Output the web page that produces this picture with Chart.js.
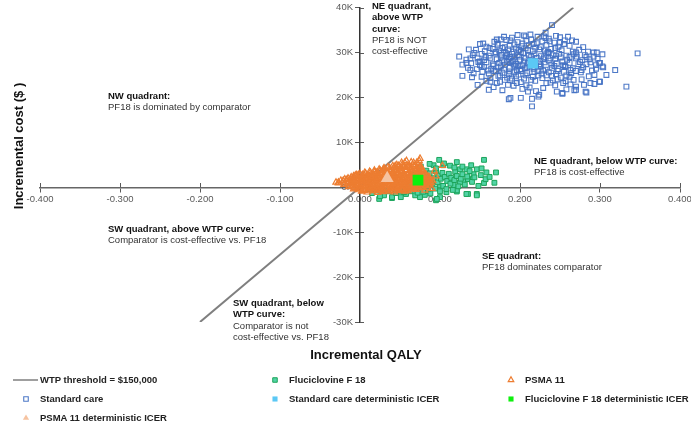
<!DOCTYPE html>
<html><head><meta charset="utf-8">
<script src="https://cdn.jsdelivr.net/npm/chart.js@4.4.1/dist/chart.umd.min.js"></script>
<style>
html,body{margin:0;padding:0;background:#fff;}
#wrap{position:relative;width:691px;height:426px;font-family:"Liberation Sans",Arial,sans-serif;overflow:hidden;}
#c{position:absolute;left:0;top:0;}
.note{position:absolute;font-size:9.5px;line-height:11.3px;color:#333;white-space:nowrap;}
.note b{font-weight:bold;color:#111;}
.atitle{position:absolute;font-size:13px;font-weight:bold;color:#111;white-space:nowrap;}
.leg{position:absolute;font-size:9.5px;font-weight:bold;color:#222;white-space:nowrap;line-height:12px;}
.mk{position:absolute;}
</style></head>
<body><div id="wrap">
<canvas id="c" width="691" height="426"></canvas>
<div class="note" style="left:108px;top:90px"><b>NW quadrant:</b><br>PF18 is dominated by comparator</div>
<div class="note" style="left:372px;top:0px"><b>NE quadrant,<br>above WTP<br>curve:</b><br>PF18 is NOT<br>cost-effective</div>
<div class="note" style="left:534px;top:155px"><b>NE quadrant, below WTP curve:</b><br>PF18 is cost-effective</div>
<div class="note" style="left:108px;top:223px"><b>SW quadrant, above WTP curve:</b><br>Comparator is cost-effective vs. PF18</div>
<div class="note" style="left:233px;top:297px"><b>SW quadrant, below<br>WTP curve:</b><br>Comparator is not<br>cost-effective vs. PF18</div>
<div class="note" style="left:482px;top:250px"><b>SE quadrant:</b><br>PF18 dominates comparator</div>
<div class="atitle" id="xt" style="left:0;width:732px;text-align:center;top:347px">Incremental QALY</div>
<div class="atitle" id="yt" style="left:18px;top:146px;transform:translate(-50%,-50%) rotate(-90deg)">Incremental cost ($ )</div>
<div id="legend"></div>
</div>
<script>
// ---------- DATA ----------
const xTickLabels = ["-0.400","-0.300","-0.200","-0.100","0.000","0.100","0.200","0.300","0.400"];
const yTickLabels = ["-30K","-20K","-10K","0K","10K","20K","30K","40K"];
// Incremental QALY, incremental cost in $ thousands
const wtpLine = [[-0.2,-30],[0.26667,40]];
const stdCareDet = [[0.216,27.6]];
const fluDet = [[0.0725,1.6]];
const psmaDet = [[0.034,2.0]];

const stdCare = [
[0.124,29.1],[0.128,24.8],[0.136,30.7],[0.140,24.5],[0.147,22.8],[0.161,21.7],[0.150,31.9],[0.171,32.9],[0.176,32.9],[0.186,19.6],
[0.201,19.9],[0.207,33.6],[0.215,18.0],[0.223,20.2],[0.232,34.4],[0.240,36.1],[0.232,33.2],[0.250,33.4],[0.260,33.5],[0.265,32.7],
[0.246,21.3],[0.253,21.0],[0.268,21.6],[0.282,21.3],[0.288,23.2],[0.293,23.0],[0.299,23.5],[0.308,25.0],[0.319,26.1],[0.333,22.4],
[0.347,29.8],[0.303,26.9],[0.296,30.0],[0.285,30.2],[0.283,27.4],[0.300,27.7],[0.277,26.1],[0.271,29.1],[0.188,19.9],[0.215,19.7],
[0.224,20.6],[0.210,21.3],[0.163,23.5],[0.175,23.5],[0.185,22.8],[0.196,23.2],[0.208,22.7],[0.233,23.2],[0.254,23.2],[0.267,23.9],
[0.138,26.1],[0.138,28.7],[0.133,27.7],[0.150,28.0],[0.154,32.0],[0.172,32.0],[0.188,32.7],[0.303,29.6],[0.292,30.0],[0.304,26.7],
[0.299,27.7],[0.295,27.2],[0.287,28.5],[0.300,23.5],[0.293,25.0],[0.283,21.1],[0.270,21.7],[0.277,24.0],[0.253,20.8],
[0.190,33.3],[0.205,33.8],[0.222,33.5],[0.236,33.1],[0.245,33.7],
[0.168,32.4],[0.183,32.8],[0.197,32.3],[0.214,32.9],[0.228,32.5],[0.243,32.2],[0.256,32.7],[0.270,32.4],
[0.158,31.3],[0.172,31.7],[0.181,31.2],[0.193,31.8],[0.202,31.4],[0.211,31.6],[0.219,31.1],[0.233,31.7],[0.248,31.3],[0.262,31.5],[0.279,31.2],
[0.145,30.6],[0.156,30.3],[0.166,30.8],[0.174,30.4],[0.185,30.7],[0.192,30.2],[0.199,30.6],[0.207,30.9],[0.216,30.3],[0.224,30.7],[0.231,30.4],[0.239,30.8],[0.252,30.5],[0.266,30.2],[0.274,30.6],
[0.141,29.4],[0.152,29.7],[0.161,29.3],[0.169,29.8],[0.177,29.5],[0.183,29.2],[0.190,29.7],[0.197,29.4],[0.204,29.9],[0.211,29.3],[0.218,29.6],[0.226,29.2],[0.233,29.8],[0.241,29.4],[0.249,29.7],[0.258,29.3],[0.267,29.6],[0.281,29.4],[0.292,29.1],
[0.133,28.4],[0.147,28.7],[0.155,28.3],[0.163,28.8],[0.171,28.5],[0.178,28.2],[0.186,28.6],[0.193,28.9],[0.200,28.4],[0.207,28.7],[0.213,28.3],[0.221,28.8],[0.229,28.5],[0.236,28.2],[0.244,28.6],[0.251,28.9],[0.259,28.4],[0.270,28.7],[0.278,28.3],[0.297,28.6],
[0.128,27.3],[0.139,27.6],[0.150,27.2],[0.158,27.8],[0.166,27.4],[0.174,27.7],[0.181,27.3],[0.188,27.9],[0.195,27.5],[0.203,27.2],[0.210,27.7],[0.224,27.4],[0.231,27.8],[0.239,27.3],[0.246,27.6],[0.254,27.2],[0.262,27.7],[0.273,27.4],[0.288,27.8],
[0.135,26.6],[0.146,26.3],[0.155,26.8],[0.164,26.4],[0.172,26.7],[0.180,26.2],[0.187,26.6],[0.194,26.9],[0.202,26.3],[0.209,26.7],[0.217,26.4],[0.225,26.8],[0.232,26.2],[0.240,26.6],[0.248,26.3],[0.257,26.8],[0.266,26.5],[0.279,26.7],[0.295,26.4],
[0.142,25.4],[0.153,25.7],[0.161,25.3],[0.170,25.8],[0.178,25.5],[0.186,25.2],[0.193,25.6],[0.201,25.9],[0.209,25.4],[0.218,25.7],[0.227,25.3],[0.236,25.6],[0.245,25.2],[0.255,25.7],[0.264,25.4],[0.276,25.6],
[0.152,24.6],[0.163,24.3],[0.173,24.8],[0.184,24.4],[0.195,24.7],[0.205,24.2],[0.216,24.6],[0.228,24.3],[0.240,24.8],[0.251,24.4],[0.262,24.6],
[0.158,23.7],[0.171,23.2],[0.188,23.8],[0.201,23.4],[0.219,23.7],[0.238,23.3],[0.257,23.6],
[0.167,22.3],[0.192,22.6],[0.212,22.2],[0.244,22.7],[0.270,22.4],
[0.178,21.6],[0.220,21.4],[0.258,21.8],
[0.184,27.9],[0.191,28.1],[0.198,27.0],[0.205,28.0],[0.212,26.9],[0.219,28.1],[0.226,27.1],[0.188,29.0],[0.196,26.1],[0.214,29.1],
[0.229,26.0],[0.176,26.9],[0.182,29.9],[0.236,29.9],[0.243,27.0],[0.201,30.1],[0.167,27.1],[0.253,28.0],[0.160,26.0],[0.247,25.9],
[0.170,30.1],[0.178,31.0],[0.187,31.5],[0.195,30.9],[0.203,32.0],[0.210,30.5],[0.217,31.9],[0.226,31.2],[0.235,30.1],[0.244,31.0],
[0.255,31.9],[0.262,29.0],[0.270,30.0],[0.176,28.9],[0.184,29.5],[0.192,27.3],[0.199,29.1],[0.206,26.5],[0.215,27.3],[0.222,25.9],
[0.230,28.9],[0.238,28.7],[0.245,29.3],[0.256,27.0],[0.263,26.1],[0.275,27.9],[0.283,29.0],[0.290,26.0],[0.168,25.9],[0.175,24.9],
[0.181,23.9],[0.190,24.2],[0.198,25.1],[0.207,24.9],[0.214,23.9],[0.223,24.9],[0.233,24.9],[0.247,24.0],[0.258,24.9],[0.270,25.9],
[0.148,27.9],[0.157,29.0],[0.162,31.0],[0.152,26.9],[0.143,29.9],[0.208,32.6],[0.221,32.1],[0.237,32.5],[0.250,32.2],[0.230,33.6],
[0.213,34.0],[0.197,33.9],[0.180,33.5],[0.286,24.7],[0.280,22.8],[0.229,22.1],[0.203,21.9],[0.263,22.9],[0.187,25.8],[0.241,23.8]
];

const fluciclovine = [
[0.099,6.1],[0.155,6.1],[0.170,3.3],[0.168,1.0],[0.155,0.95],[0.146,-1.5],[0.135,-1.5],[0.121,-0.95],[0.015,-1.3],[0.024,-2.6],
[0.030,-1.8],[0.040,-2.4],[0.051,-2.2],[0.0575,-1.5],[0.069,-1.8],[0.081,-1.7],[0.095,-2.9],[0.100,-2.2],[0.146,4.0],[0.152,4.2],
[0.133,4.0],[0.125,4.0],[0.1125,4.8],[0.104,4.9],[0.092,4.9],[0.083,3.7],[0.142,2.9],[0.1375,1.8],[0.129,1.3],[0.117,0.5],
[0.025,-2.0],[0.040,-2.2],[0.055,-1.1],[0.075,-2.2],[0.096,-2.6],[0.108,-1.1],[0.121,-0.7],[0.133,-1.5],[0.146,-1.8],[0.157,1.8],
[0.100,0.4],[0.1125,1.5],[0.125,1.1],[0.135,1.8],
[0.060,0.5],[0.065,2.8],[0.070,-0.5],[0.074,3.9],[0.078,1.2],[0.080,0.2],[0.083,2.4],[0.085,-0.8],[0.087,3.1],[0.089,1.5],
[0.090,0.6],[0.092,2.0],[0.094,-0.3],[0.095,3.5],[0.097,1.1],[0.098,2.6],[0.100,-0.9],[0.101,1.9],[0.103,3.2],[0.104,0.3],
[0.106,2.3],[0.108,-0.4],[0.109,1.4],[0.111,3.0],[0.113,0.8],[0.114,2.1],[0.116,-0.6],[0.118,1.6],[0.119,3.4],[0.121,2.5],
[0.123,0.2],[0.126,1.9],[0.128,2.9],[0.131,0.6],[0.134,2.4],[0.137,3.6],[0.140,1.2],[0.143,2.2],[0.148,0.3],[0.151,2.7],
[0.158,3.3],[0.162,2.3],[0.076,4.6],[0.087,5.2],[0.095,4.2],[0.069,0.9],[0.072,-1.2],[0.079,-1.0],[0.088,-1.4],[0.063,-0.9],
[0.056,-0.3],[0.050,-0.8],[0.045,-1.3],[0.035,-0.9],[0.028,-0.6],[0.020,-0.7],[0.012,-0.4],[0.105,5.3],[0.118,4.4],[0.128,4.6],
[0.139,4.9],[0.121,5.6]
];

const psma11 = [
[0.002,-0.9],[0.009,-1.1],[0.016,-0.8],[0.022,-1.2],[0.029,-1.0],[0.036,-0.9],[0.043,-1.1],[0.049,-0.8],[0.056,-0.9],
[-0.008,-0.4],[-0.002,-0.6],[0.004,-0.5],[0.011,-0.3],[0.017,-0.6],[0.024,-0.4],[0.030,-0.5],[0.037,-0.7],[0.043,-0.3],[0.050,-0.5],[0.057,-0.6],[0.063,-0.4],[0.070,-0.5],
[-0.014,0.1],[-0.007,-0.1],[-0.001,0.0],[0.006,0.2],[0.012,-0.1],[0.019,0.1],[0.026,0.0],[0.032,-0.2],[0.039,0.1],[0.045,0.0],[0.052,0.2],[0.058,-0.1],[0.065,0.0],[0.071,0.1],[0.078,-0.1],[0.084,0.0],
[-0.020,0.6],[-0.013,0.4],[-0.006,0.5],[0.001,0.7],[0.008,0.4],[0.014,0.5],[0.021,0.6],[0.027,0.3],[0.034,0.5],[0.041,0.6],[0.047,0.4],[0.054,0.5],[0.060,0.7],[0.067,0.4],[0.074,0.6],[0.080,0.5],[0.087,0.4],
[-0.027,1.1],[-0.019,0.9],[-0.012,1.0],[-0.005,1.2],[0.002,0.9],[0.009,1.0],[0.015,1.1],[0.022,0.8],[0.029,1.0],[0.036,1.2],[0.042,0.9],[0.049,1.0],[0.055,1.1],[0.062,0.9],[0.069,1.0],[0.075,1.2],[0.082,0.9],[0.089,1.0],
[-0.024,1.5],[-0.017,1.6],[-0.010,1.4],[-0.003,1.5],[0.004,1.7],[0.011,1.4],[0.018,1.5],[0.024,1.6],[0.031,1.3],[0.038,1.5],[0.044,1.6],[0.051,1.4],[0.058,1.5],[0.064,1.7],[0.071,1.4],[0.078,1.5],[0.085,1.6],[0.091,1.4],
[-0.015,2.0],[-0.008,2.1],[-0.001,1.9],[0.006,2.0],[0.013,2.2],[0.020,1.9],[0.026,2.0],[0.033,2.1],[0.040,1.8],[0.046,2.0],[0.053,2.1],[0.060,1.9],[0.066,2.0],[0.073,2.2],[0.080,1.9],[0.087,2.0],
[-0.008,2.5],[-0.001,2.4],[0.006,2.6],[0.012,2.5],[0.019,2.3],[0.025,2.6],[0.032,2.5],[0.039,2.4],[0.045,2.6],[0.052,2.5],[0.059,2.7],[0.065,2.4],[0.072,2.5],[0.079,2.6],[0.086,2.4],
[0.000,3.0],[0.007,3.1],[0.014,2.9],[0.020,3.0],[0.027,3.2],[0.034,2.9],[0.041,3.0],[0.047,3.1],[0.054,2.9],[0.061,3.0],[0.067,3.2],[0.074,3.0],[0.081,2.9],
[0.012,3.5],[0.018,3.4],[0.025,3.6],[0.032,3.5],[0.038,3.4],[0.045,3.6],[0.052,3.5],[0.058,3.7],[0.065,3.4],[0.072,3.5],[0.079,3.6],
[0.024,4.0],[0.031,4.1],[0.037,3.9],[0.044,4.0],[0.051,4.2],[0.057,3.9],[0.064,4.0],[0.071,4.1],[0.078,3.9],
[0.035,4.5],[0.042,4.4],[0.048,4.6],[0.055,4.5],[0.062,4.4],[0.068,4.6],[0.075,4.5],
[0.046,5.0],[0.053,5.1],[0.059,4.9],[0.066,5.0],[0.073,5.1],
[0.056,5.5],[0.064,5.6],[0.071,5.5],
[-0.030,1.1],[-0.027,0.95],[-0.021,1.5],[-0.016,1.7],[-0.005,2.7],[-0.008,1.5],[-0.006,2.6],[-0.002,2.8],[0.021,3.3],[0.029,4.0],
[0.044,4.8],[0.052,5.5],[0.058,5.9],[0.067,5.5],[0.074,5.9],[0.075,6.4],[0.103,4.8],[0.081,-0.7],[0.095,2.5],[0.093,3.6],[0.090,-0.3],
[-0.010,0.3],[-0.003,0.2],[0.004,0.35],[0.010,0.2],[0.017,0.3],[0.023,0.15],[0.030,0.3],[0.036,0.25],[0.043,0.2],[0.049,0.35],[0.056,0.2],[0.062,0.3],[0.069,0.25],[0.075,0.2],[0.082,0.3],
[-0.016,0.8],[-0.009,0.7],[-0.002,0.85],[0.005,0.75],[0.011,0.7],[0.018,0.8],[0.025,0.75],[0.031,0.85],[0.038,0.7],[0.044,0.8],[0.051,0.75],[0.058,0.7],[0.064,0.85],[0.071,0.75],[0.078,0.8],[0.085,0.7],
[-0.021,1.3],[-0.014,1.2],[-0.007,1.3],[0.000,1.25],[0.006,1.35],[0.013,1.2],[0.020,1.3],[0.026,1.25],[0.033,1.2],[0.040,1.35],[0.046,1.25],[0.053,1.2],[0.060,1.3],[0.066,1.25],[0.073,1.35],[0.080,1.2],[0.087,1.3],
[-0.019,1.8],[-0.012,1.75],[-0.005,1.7],[0.002,1.8],[0.009,1.75],[0.015,1.85],[0.022,1.7],[0.028,1.8],[0.035,1.75],[0.042,1.85],[0.048,1.7],[0.055,1.8],[0.062,1.75],[0.068,1.8],[0.075,1.7],[0.082,1.8],[0.088,1.75],
[-0.011,2.25],[-0.004,2.3],[0.003,2.2],[0.010,2.25],[0.016,2.35],[0.023,2.2],[0.029,2.3],[0.036,2.25],[0.043,2.2],[0.049,2.3],[0.056,2.25],[0.063,2.35],[0.069,2.2],[0.076,2.3],[0.083,2.25],
[-0.004,2.75],[0.003,2.8],[0.010,2.7],[0.017,2.75],[0.023,2.85],[0.030,2.7],[0.036,2.8],[0.043,2.75],[0.050,2.7],[0.056,2.8],[0.063,2.75],[0.070,2.85],[0.076,2.7],[0.083,2.75],
[0.006,3.25],[0.013,3.3],[0.020,3.2],[0.027,3.25],[0.033,3.35],[0.040,3.2],[0.047,3.3],[0.053,3.25],[0.060,3.2],[0.067,3.3],[0.074,3.25],[0.080,3.35],
[0.018,3.75],[0.025,3.8],[0.031,3.7],[0.038,3.75],[0.045,3.85],[0.051,3.7],[0.058,3.8],[0.065,3.75],[0.072,3.7],[0.078,3.8],
[0.030,4.25],[0.037,4.3],[0.044,4.2],[0.050,4.25],[0.057,4.35],[0.064,4.2],[0.071,4.3],[0.077,4.25],
[0.041,4.75],[0.048,4.8],[0.055,4.7],[0.062,4.75],[0.069,4.85],[0.076,4.7],
[-0.005,-0.25],[0.001,-0.3],[0.008,-0.2],[0.014,-0.25],[0.021,-0.35],[0.027,-0.2],[0.034,-0.3],[0.040,-0.25],[0.047,-0.2],[0.053,-0.3],[0.060,-0.25],[0.067,-0.35],[0.074,-0.2],
[0.005,-0.75],[0.012,-0.7],[0.019,-0.8],[0.026,-0.75],[0.033,-0.65],[0.040,-0.8],[0.046,-0.75],[0.053,-0.7],[0.060,-0.8]
];

const legendLabels = ["WTP threshold = $150,000","Fluciclovine F 18","PSMA 11","Standard care","Standard care deterministic ICER","Fluciclovine F 18 deterministic ICER","PSMA 11 deterministic ICER"];

// ---------- CHART ----------
const toXY = a => a.map(p => ({x:p[0], y:p[1]}));
const AX = '#595959';
const fitNoPad = s => { s.paddingLeft = 0; s.paddingRight = 0; s.paddingTop = 0; s.paddingBottom = 0; };

// Linear scale whose labels sit a few px away from a value-positioned (crossing) axis
class CrossLinear extends Chart.LinearScale {
  _computeLabelItems(chartArea) {
    const items = super._computeLabelItems(chartArea);
    const shift = this.options.labelShift || 0;
    try {
      if (shift && !this.isHorizontal()) {
        items.forEach(it => { if (it.options && it.options.translation) it.options.translation[0] -= shift; });
      }
    } catch (e) {}
    return items;
  }
}
CrossLinear.id = 'crossLinear';
CrossLinear.defaults = Chart.LinearScale.defaults;
Chart.register(CrossLinear);

const crossTicks = {
  id: 'crossTicks',
  beforeDatasetsDraw(chart) {
    const {ctx, scales:{x, y}} = chart;
    const y0 = Math.round(y.getPixelForValue(0));
    const x0 = Math.round(x.getPixelForValue(0));
    ctx.save(); ctx.strokeStyle = AX; ctx.lineWidth = 1;
    x.ticks.forEach((t, i) => { const px = Math.round(x.getPixelForTick(i)) + 0.5; ctx.beginPath(); ctx.moveTo(px, y0 - 4); ctx.lineTo(px, y0); ctx.stroke(); });
    y.ticks.forEach((t, i) => { const py = Math.round(y.getPixelForTick(i)) + 0.5; ctx.beginPath(); ctx.moveTo(x0, py); ctx.lineTo(x0 + 4, py); ctx.stroke(); });
    ctx.restore();
  }
};

const dsWtp = {label: legendLabels[0], type:'line', data: toXY(wtpLine), borderColor:'#7f7f7f', borderWidth:2, pointRadius:0, fill:false, order:10};
const dsFlu = {label: legendLabels[1], data: toXY(fluciclovine), pointStyle:'rect', pointRadius:3.4, backgroundColor:'#52d3a6', borderColor:'#1ca45a', borderWidth:1, order:8};
const dsPsma = {label: legendLabels[2], data: toXY(psma11), pointStyle:'triangle', pointRadius:3.6, backgroundColor:'rgba(255,255,255,0)', borderColor:'#ed7d31', borderWidth:1.2, order:7};
const dsStd = {label: legendLabels[3], data: toXY(stdCare), pointStyle:'rect', pointRadius:3.4, backgroundColor:'rgba(255,255,255,0)', borderColor:'rgba(68,114,196,0.95)', borderWidth:1.1, order:9};
const dsStdDet = {label: legendLabels[4], data: toXY(stdCareDet), pointStyle:'rect', pointRadius:7.3, backgroundColor:'#5bc8f5', borderColor:'#5bc8f5', borderWidth:0, order:3};
const dsFluDet = {label: legendLabels[5], data: toXY(fluDet), pointStyle:'rect', pointRadius:7.6, backgroundColor:'#0ef00e', borderColor:'#0ef00e', borderWidth:0, order:2};
const dsPsmaDet = {label: legendLabels[6], data: toXY(psmaDet), pointStyle:'triangle', pointRadius:7.4, backgroundColor:'#f6c3a0', borderColor:'#f6c3a0', borderWidth:0, order:1};
const datasets = [dsWtp, dsFlu, dsPsma, dsStd, dsStdDet, dsFluDet, dsPsmaDet];

const chart = new Chart(document.getElementById('c'), {
  type: 'scatter',
  data: { datasets },
  options: {
    responsive: false, animation: false, devicePixelRatio: 1,
    layout: { padding: { left: 40, right: 11, top: 5, bottom: 104 } },
    plugins: { legend: { display: false }, tooltip: { enabled: false }, title: { display: false } },
    scales: {
      x: {
        type: 'linear', min: -0.4, max: 0.4, position: { y: 0 },
        afterFit: fitNoPad,
        ticks: { stepSize: 0.1, padding: 2, color: AX, font: { family: '"Liberation Sans", Arial', size: 9.5 },
          callback: (v, i) => xTickLabels[i] },
        grid: { display: true, drawOnChartArea: false, drawTicks: true, tickLength: 4, color: AX, lineWidth: 1 },
        border: { display: true, color: '#666', width: 1.5 }
      },
      y: {
        type: 'crossLinear', labelShift: 7, min: -30, max: 40, position: { x: 0 },
        afterFit: fitNoPad,
        ticks: { stepSize: 10, padding: 3, color: AX, font: { family: '"Liberation Sans", Arial', size: 9.5 },
          callback: (v, i) => yTickLabels[i] },
        grid: { display: true, drawOnChartArea: false, drawTicks: true, tickLength: 4, color: AX, lineWidth: 1 },
        border: { display: true, color: '#333', width: 1.5 }
      }
    }
  },
  plugins: [crossTicks]
});

// ---------- HTML LEGEND (markers drawn with Chart.js point helper) ----------
const legendPos = [[13,380],[262,380],[498,380],[13,399],[262,399],[498,399],[13,418]];
const legend = document.getElementById('legend');
datasets.forEach((ds, i) => {
  const [lx, ly] = legendPos[i];
  const cv = document.createElement('canvas');
  cv.width = 26; cv.height = 14; cv.className = 'mk';
  cv.style.left = lx + 'px'; cv.style.top = (ly - 7) + 'px';
  const ctx = cv.getContext('2d');
  if (ds.type === 'line') {
    ctx.strokeStyle = ds.borderColor; ctx.lineWidth = 1.5;
    ctx.beginPath(); ctx.moveTo(0, 7); ctx.lineTo(25, 7); ctx.stroke();
  } else {
    const r = ds.pointRadius > 5 ? 3.6 : 3.2;
    ctx.fillStyle = ds.backgroundColor; ctx.strokeStyle = ds.borderColor; ctx.lineWidth = ds.borderWidth;
    const opts = { pointStyle: ds.pointStyle, radius: r, borderWidth: ds.borderWidth, rotation: 0 };
    if (Chart.helpers && Chart.helpers.drawPoint) {
      Chart.helpers.drawPoint(ctx, opts, 13, 7);
    } else {
      ctx.beginPath(); ctx.rect(13 - r*0.7, 7 - r*0.7, r*1.4, r*1.4); ctx.fill(); if (ds.borderWidth) ctx.stroke();
    }
  }
  legend.appendChild(cv);
  const t = document.createElement('div');
  t.className = 'leg'; t.textContent = ds.label;
  t.style.left = (lx + 27) + 'px'; t.style.top = (ly - 6) + 'px';
  legend.appendChild(t);
});
</script>
</body></html>
